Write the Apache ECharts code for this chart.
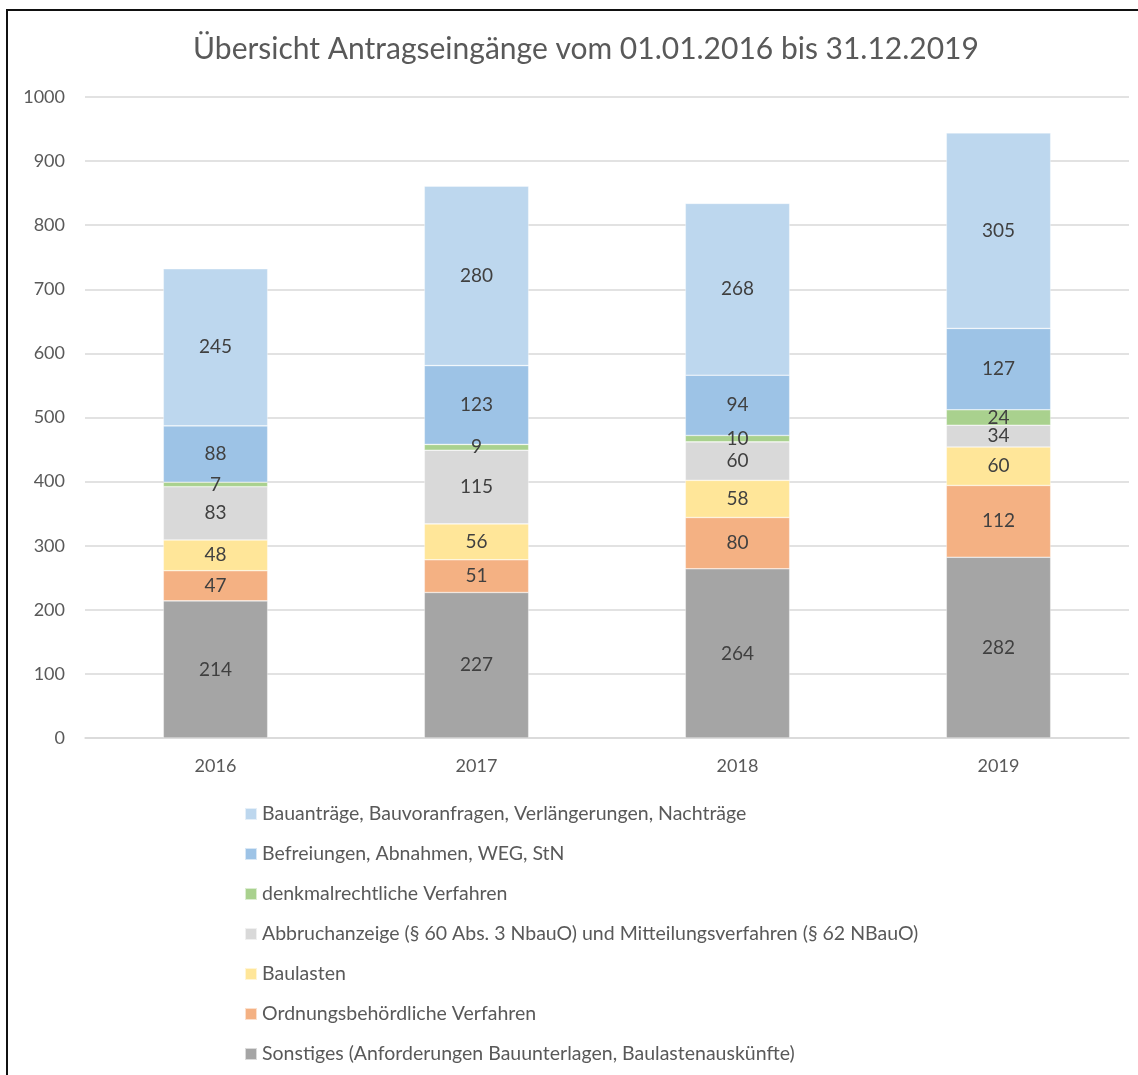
<!DOCTYPE html>
<html>
<head>
<meta charset="utf-8">
<script src="https://cdn.jsdelivr.net/npm/echarts@6/dist/echarts.min.js"></script>
<style>
  html, body { margin: 0; padding: 0; background: #fff; }
  #chart { width: 1138px; height: 1075px; }
</style>
</head>
<body>
<div id="chart"></div>
<script>
// Jahre (Kategorien)
const years = ['2016', '2017', '2018', '2019'];

// Antragseingänge je Verfahrensart, von unten nach oben gestapelt
const sonstiges = [214, 227, 264, 282];
const ordnungsbehoerdlich = [47, 51, 80, 112];
const baulasten = [48, 56, 58, 60];
const abbruchanzeige = [83, 115, 60, 34];
const denkmalrecht = [7, 9, 10, 24];
const befreiungen = [88, 123, 94, 127];
const bauantraege = [245, 280, 268, 305];

const seriesDefs = [
  { name: 'Sonstiges (Anforderungen Bauunterlagen, Baulastenauskünfte)', data: sonstiges, color: '#A5A5A5' },
  { name: 'Ordnungsbehördliche Verfahren', data: ordnungsbehoerdlich, color: '#F4B183' },
  { name: 'Baulasten', data: baulasten, color: '#FFE699' },
  { name: 'Abbruchanzeige (§ 60 Abs. 3 NbauO) und Mitteilungsverfahren (§ 62 NBauO)', data: abbruchanzeige, color: '#D9D9D9' },
  { name: 'denkmalrechtliche Verfahren', data: denkmalrecht, color: '#A9D18E' },
  { name: 'Befreiungen, Abnahmen, WEG, StN', data: befreiungen, color: '#9DC3E6' },
  { name: 'Bauanträge, Bauvoranfragen, Verlängerungen, Nachträge', data: bauantraege, color: '#BDD7EE' }
];

const FONT = 'Lato, "Open Sans", sans-serif';

const chart = echarts.init(document.getElementById('chart'), null, { renderer: 'canvas' });

chart.setOption({
  animation: false,
  backgroundColor: '#ffffff',
  textStyle: { fontFamily: FONT },
  title: {
    text: 'Übersicht Antragseingänge vom 01.01.2016 bis 31.12.2019',
    left: 581,
    textAlign: 'center',
    top: 29,
    textStyle: { fontFamily: FONT, fontSize: 30, fontWeight: 'normal', color: '#595959' }
  },
  graphic: [{
    type: 'rect',
    shape: { x: 7, y: 10, width: 1300, height: 1300 },
    style: { fill: 'none', stroke: '#111', lineWidth: 2 },
    silent: true
  }],
  legend: {
    orient: 'vertical',
    left: 239,
    top: 799,
    itemGap: 20,
    itemWidth: 12,
    itemHeight: 12,
    icon: 'rect',
    data: seriesDefs.map(s => s.name).reverse(),
    textStyle: { fontFamily: FONT, fontSize: 19.5, color: '#595959' }
  },
  grid: { left: 85, right: 9, top: 97, bottom: 337, containLabel: false },
  xAxis: {
    type: 'category',
    data: years,
    axisLine: { lineStyle: { color: '#D9D9D9', width: 1.5 } },
    axisTick: { show: false },
    axisLabel: { fontFamily: FONT, fontSize: 18, color: '#595959', margin: 19 }
  },
  yAxis: {
    type: 'value',
    min: 0,
    max: 1000,
    interval: 100,
    axisLine: { show: false },
    axisTick: { show: false },
    splitLine: { lineStyle: { color: '#D9D9D9', width: 1.5 } },
    axisLabel: {
      fontFamily: FONT, fontSize: 18, color: '#595959', margin: 20,
      formatter: v => String(v)
    }
  },
  series: seriesDefs.map(s => ({
    name: s.name,
    type: 'bar',
    stack: 'gesamt',
    barWidth: '40%',
    data: s.data,
    itemStyle: { color: s.color, borderColor: 'rgba(255,255,255,0.6)', borderWidth: 0.6 },
    label: {
      show: true,
      position: 'inside',
      fontFamily: FONT,
      fontSize: 19,
      color: '#404040'
    }
  }))
});
</script>
</body>
</html>
